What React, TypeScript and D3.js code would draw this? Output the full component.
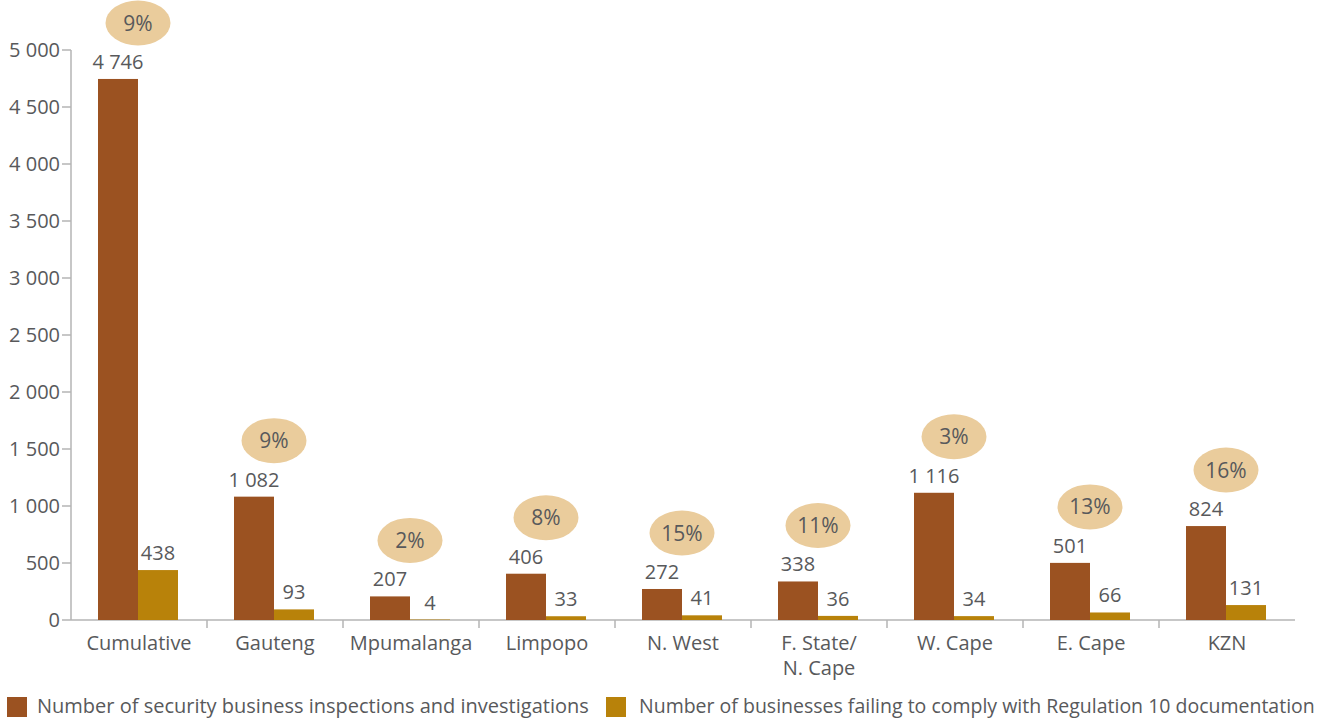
import React from "react";
import * as d3 from "d3";

const categories = ["Cumulative", "Gauteng", "Mpumalanga", "Limpopo", "N. West", "F. State/\nN. Cape", "W. Cape", "E. Cape", "KZN"];
const inspections = [4746, 1082, 207, 406, 272, 338, 1116, 501, 824];
const failing = [438, 93, 4, 33, 41, 36, 34, 66, 131];
const percentages = ["9%", "9%", "2%", "8%", "15%", "11%", "3%", "13%", "16%"];
const yTicks = [0, 500, 1000, 1500, 2000, 2500, 3000, 3500, 4000, 4500, 5000];
const seriesNames = [
  "Number of security business inspections and investigations",
  "Number of businesses failing to comply with Regulation 10 documentation",
];
const seriesColors = ["#9B5221", "#B8820A"];

const W = 1334;
const H = 721;
const FONT = "'Open Sans', 'Noto Sans', sans-serif";
const TEXT = "#58595B";
const AXIS = "#B5B5B5";

export default function App() {
  const x = d3.scaleBand<string>().domain(categories).range([71, 1295]);
  const y = d3.scaleLinear().domain([0, 5000]).range([620, 50]);
  const inner = d3.scaleBand<string>().domain(["a", "b"]).range([0, 80]);
  const fmt = (v: number) => d3.format(",")(v).replace(/,/g, " ");
  const series = [inspections, failing];

  return (
    <svg width={W} height={H} style={{ position: "absolute", left: 0, top: 0, fontFamily: FONT }}>
      <rect width={W} height={H} fill="#fff" />
      {/* y axis */}
      <line x1={71} x2={71} y1={y(5000)} y2={y(0)} stroke={AXIS} strokeWidth={1.5} />
      {yTicks.map((t) => (
        <g key={t}>
          <line x1={62} x2={71} y1={y(t)} y2={y(t)} stroke={AXIS} strokeWidth={1.5} />
          <text x={60} y={y(t)} dy="0.35em" textAnchor="end" fontSize={20} fill={TEXT}>
            {fmt(t)}
          </text>
        </g>
      ))}
      {/* x axis */}
      <line x1={71} x2={1295} y1={y(0)} y2={y(0)} stroke={AXIS} strokeWidth={1.5} />
      {categories.slice(1).map((c) => (
        <line key={c} x1={x(c)!} x2={x(c)!} y1={y(0)} y2={y(0) + 8} stroke={AXIS} strokeWidth={1.5} />
      ))}
      {/* bars */}
      {categories.map((c, i) => {
        const cx = x(c)! + x.bandwidth() / 2 - 1;
        const x0 = cx - 40;
        return (
          <g key={c}>
            {series.map((s, si) => {
              const bx = x0 + inner(si === 0 ? "a" : "b")!;
              const v = s[i];
              return (
                <g key={si}>
                  <rect x={bx} y={y(v)} width={inner.bandwidth()} height={y(0) - y(v)} fill={seriesColors[si]} />
                  <text x={bx + inner.bandwidth() / 2} y={y(v) - 10} textAnchor="middle" fontSize={20} fill={TEXT}>
                    {fmt(v)}
                  </text>
                </g>
              );
            })}
            <ellipse cx={cx} cy={y(inspections[i]) - 56} rx={32.5} ry={22.5} fill="#EACC9C" />
            <text x={cx} y={y(inspections[i]) - 56} dy="0.36em" textAnchor="middle" fontSize={21} fill={TEXT}>
              {percentages[i]}
            </text>
            {c.split("\n").map((line, li) => (
              <text key={li} x={cx + 1} y={650 + li * 25} textAnchor="middle" fontSize={20} fill={TEXT}>
                {line}
              </text>
            ))}
          </g>
        );
      })}
      {/* legend */}
      {seriesNames.map((n, i) => {
        const lx = i === 0 ? 7 : 606;
        const tx = i === 0 ? 37 : 639;
        return (
          <g key={n}>
            <rect x={lx} y={697} width={20} height={20} fill={seriesColors[i]} />
            <text x={tx} y={713} fontSize={i === 0 ? 20 : 19.5} fill={TEXT}>
              {n}
            </text>
          </g>
        );
      })}
    </svg>
  );
}
